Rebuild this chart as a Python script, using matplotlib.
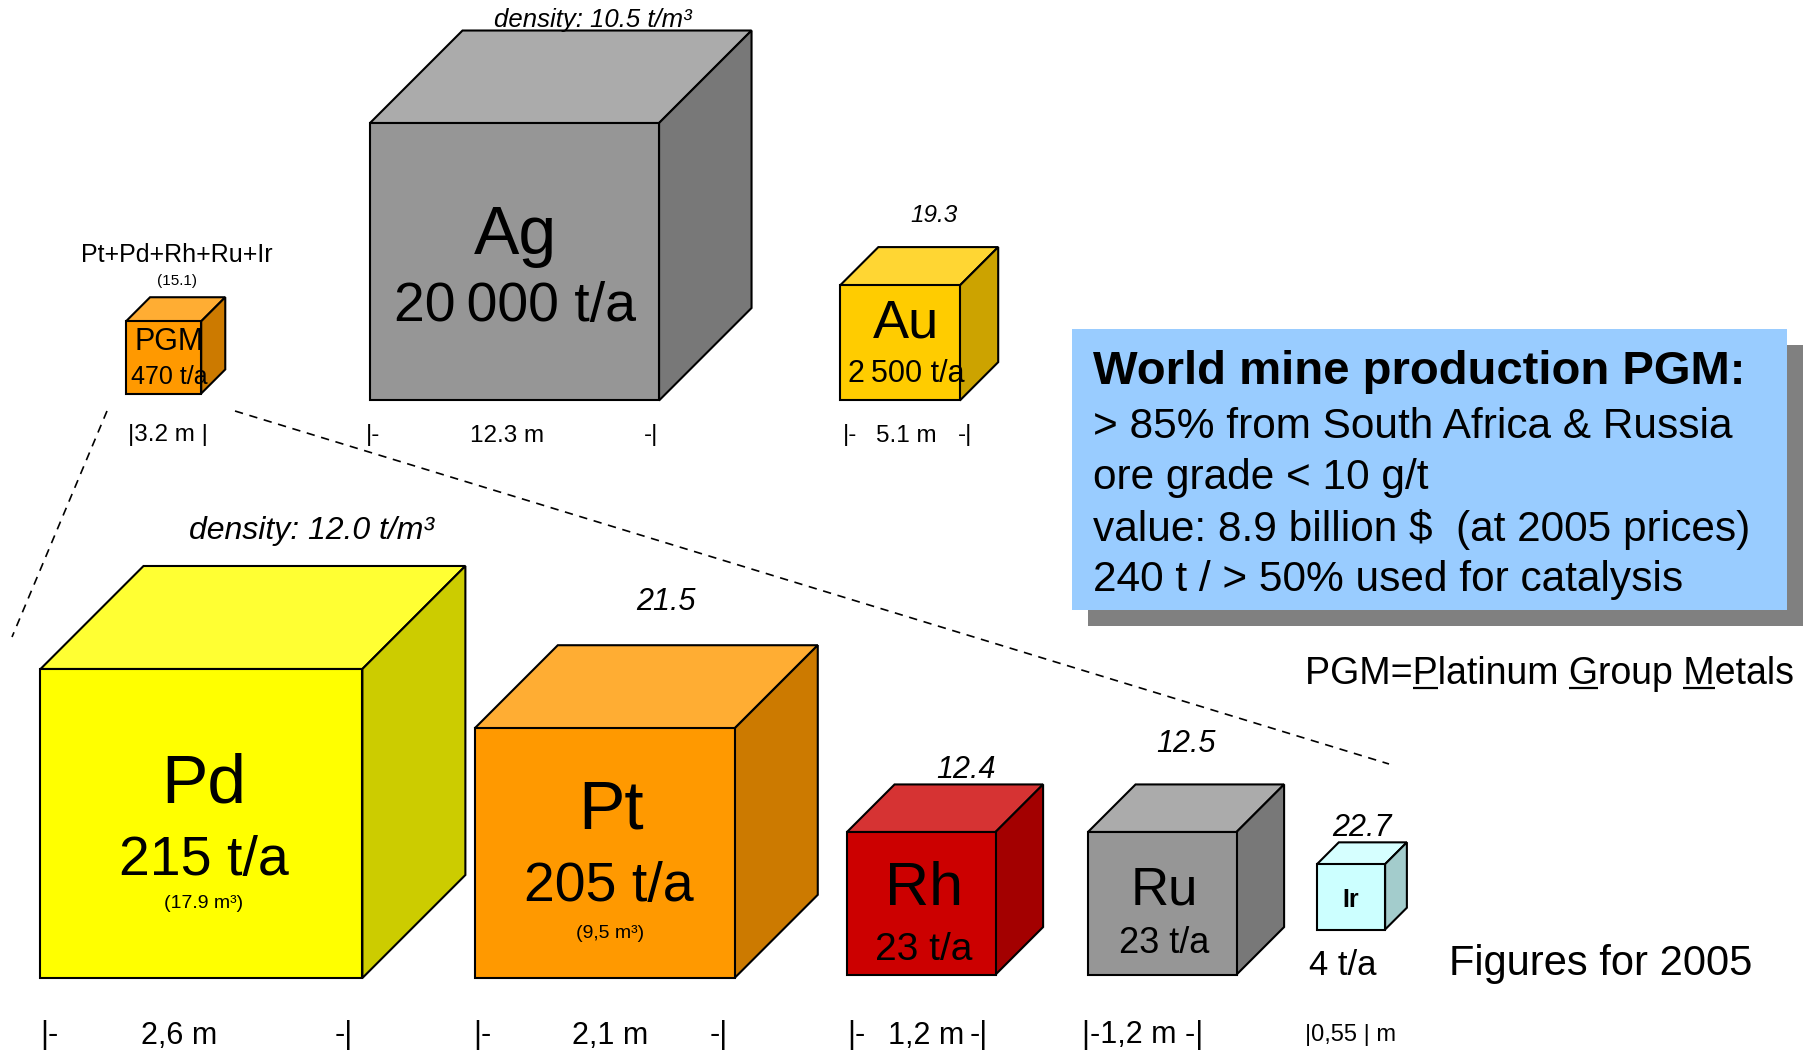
import numpy as np
import matplotlib
matplotlib.use("Agg")
import matplotlib.pyplot as plt
from matplotlib.patches import Polygon, Rectangle
from matplotlib.colors import to_rgb

plt.rcParams['font.family'] = ['Liberation Sans', 'DejaVu Sans']

# upper row: total PGM, silver, gold
top_names = ['PGM', 'Ag', 'Au']
top_tonnes = [470, 20000, 2500]
top_density = [15.1, 10.5, 19.3]
top_edge = [3.2, 12.3, 5.1]          # m
top_colors = ['#FF9900', '#969696', '#FFCC00']

# lower row: the single platinum group metals
bot_names = ['Pd', 'Pt', 'Rh', 'Ru', 'Ir']
bot_tonnes = [215, 205, 23, 23, 4]
bot_density = [12.0, 21.5, 12.4, 12.5, 22.7]
bot_edge = [2.6, 2.1, 1.2, 1.2, 0.55]   # m
bot_edge_labels = ['2,6', '2,1', '1,2', '1,2', '0,55']
bot_volume = ['(17.9 m³)', '(9,5 m³)', '', '', '']
bot_colors = ['#FFFF00', '#FF9900', '#CC0000', '#969696', '#CCFFFF']

info_lines = ['> 85% from South Africa & Russia',
              'ore grade < 10 g/t',
              'value: 8.9 billion $  (at 2005 prices)',
              '240 t / > 50% used for catalysis']

W, H = 1815, 1051
fig = plt.figure(figsize=(W / 100, H / 100), dpi=100)
ax = fig.add_axes([0, 0, 1, 1])
ax.set_xlim(0, W)
ax.set_ylim(H, 0)
ax.axis('off')

top_scale = 23.5    # px per m
bot_scale = 123.8


def cube(x0, yb, edge_px, color):
    w = edge_px
    h = 0.96 * w
    d = 0.32 * w
    c = np.array(to_rgb(color))
    light = c + (1 - c) * 0.2
    dark = c * 0.8
    yt = yb - h
    ax.add_patch(Polygon([(x0, yt), (x0 + d, yt - d), (x0 + w + d, yt - d), (x0 + w, yt)],
                         closed=True, fc=light, ec='k', lw=1.5, zorder=2))
    ax.add_patch(Polygon([(x0 + w, yt), (x0 + w + d, yt - d), (x0 + w + d, yb - d), (x0 + w, yb)],
                         closed=True, fc=dark, ec='k', lw=1.5, zorder=2))
    ax.add_patch(Rectangle((x0, yt), w, h, fc=color, ec='k', lw=1.5, zorder=2))
    return yt - d


def tpa(v):
    return f"{v:,}".replace(',', '\u2009') + ' t/a'


def txt(x, y, s, size, **kw):
    kw.setdefault('ha', 'center')
    kw.setdefault('va', 'center')
    ax.text(x, y + 3.5, s, fontsize=size, zorder=5, **kw)


# dashed zoom lines from the PGM cube to the lower row
ax.plot([107, 12], [411, 637], 'k', ls=(0, (5, 4)), lw=1.2)
ax.plot([235, 1389], [411, 764], 'k', ls=(0, (5, 4)), lw=1.2)

# ---- upper row
top_x = [126, 370, 840]
top_y = [393.5, 400.5, 400.5]
for i in range(3):
    cube(top_x[i], top_y[i], top_edge[i] * top_scale, top_colors[i])

txt(177, 251, 'Pt+Pd+Rh+Ru+Ir', 18)
txt(177, 277, f'({top_density[0]})', 11)
txt(169, 338, top_names[0], 22)
txt(169, 373, tpa(top_tonnes[0]), 18)
txt(128, 432, f'|{top_edge[0]} m |', 17.5, ha='left')

txt(593, 17, f'density: {top_density[1]} t/m³', 18.5, style='italic')
txt(515, 232, top_names[1], 49)
txt(515, 304, tpa(top_tonnes[1]), 40)
txt(366, 432, '|-', 17.5, ha='left')
txt(507, 432, f'{top_edge[1]} m', 17.5)
txt(658, 432, '-|', 17.5, ha='right')

txt(934, 212, f'{top_density[2]}', 17.5, style='italic')
txt(906, 320, top_names[2], 39)
txt(906, 370, tpa(top_tonnes[2]), 22)
txt(843, 432, '|-', 17.5, ha='left')
txt(906, 432, f'{top_edge[2]} m', 17.5)
txt(972, 432, '-|', 17.5, ha='right')

# ---- lower row
bot_x = [40.5, 474.6, 847, 1088, 1317]
bot_y = [978, 978, 974.6, 974.6, 929.5]
tops = []
for i in range(5):
    tops.append(cube(bot_x[i], bot_y[i], bot_edge[i] * bot_scale, bot_colors[i]))

# Pd
txt(312, 527, f'density: {bot_density[0]:.1f} t/m³', 23, style='italic')
txt(204, 781, bot_names[0], 50)
txt(204, 857, tpa(bot_tonnes[0]), 40)
txt(204, 900, bot_volume[0], 14)
# Pt
txt(666, 598, f'{bot_density[1]}', 22, style='italic')
txt(611, 807, bot_names[1], 50)
txt(609, 883, tpa(bot_tonnes[1]), 40)
txt(610, 930, bot_volume[1], 14)
# Rh
txt(966, 766, f'{bot_density[2]}', 22, style='italic')
txt(924, 886, bot_names[2], 44)
txt(924, 947, tpa(bot_tonnes[2]), 28)
# Ru
txt(1186, 741, f'{bot_density[3]}', 22, style='italic')
txt(1164, 887, bot_names[3], 38)
txt(1164, 940, tpa(bot_tonnes[3]), 26)
# Ir
ir_w = bot_edge[4] * bot_scale
txt(1362, tops[4] - 18, f'{bot_density[4]}', 22, style='italic')
txt(bot_x[4] + ir_w / 2, bot_y[4] - 0.48 * ir_w, bot_names[4], 18, weight='bold')
txt(1343, 962, tpa(bot_tonnes[4]), 25)

# edge lengths under the lower row
yd = 1032
txt(40, yd, '|-', 22, ha='left')
txt(179, yd, f'{bot_edge_labels[0]} m', 22)
txt(353, yd, '-|', 22, ha='right')
txt(473, yd, '|-', 22, ha='left')
txt(610, yd, f'{bot_edge_labels[1]} m', 22)
txt(728, yd, '-|', 22, ha='right')
txt(847, yd, '|-', 22, ha='left')
txt(926, yd, f'{bot_edge_labels[2]} m', 22)
txt(988, yd, '-|', 22, ha='right')
txt(1082, yd, f'|-{bot_edge_labels[3]} m -|', 22, ha='left')
txt(1305, yd, f'|{bot_edge_labels[4]} | m', 17, ha='left')

# ---- info box with shadow
bx, by, bw, bh = 1072, 329, 715, 281
ax.add_patch(Rectangle((bx + 16, by + 16), bw, bh, fc='#808080', ec='none', zorder=1))
ax.add_patch(Rectangle((bx, by), bw, bh, fc='#99CCFF', ec='none', zorder=2))
txt(1093, 368, 'World mine production PGM:', 34, ha='left', weight='bold')
for k, line in enumerate(info_lines):
    txt(1093, 424 + 51 * k, line, 30.5, ha='left')

# PGM legend with underlined initials
legend = 'PGM=Platinum Group Metals'
lfs = 27
fig.canvas.draw()
rend = fig.canvas.get_renderer()


def width(s):
    t = ax.text(0, 0, s, fontsize=lfs)
    w = t.get_window_extent(rend).width
    t.remove()
    return w


xl = 1794 - width(legend)
ybase = 684
ax.text(xl, ybase, legend, fontsize=lfs, ha='left', va='baseline')
for idx in [4, 13, 19]:
    x1 = xl + width(legend[:idx + 1])
    x0 = x1 - width(legend[idx])
    ax.plot([x0, x1], [ybase + 4, ybase + 4], 'k', lw=1.6, solid_capstyle='butt')

txt(1601, 961, 'Figures for 2005', 30)

fig.savefig('out.png', dpi=100)
